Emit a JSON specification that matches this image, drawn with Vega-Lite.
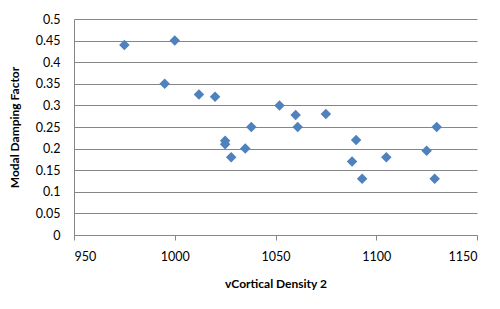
{
  "$schema": "https://vega.github.io/schema/vega-lite/v6.json",
  "width": 403,
  "height": 216,
  "autosize": {"type": "none"},
  "padding": {"left": 74, "top": 19, "right": 23, "bottom": 74},
  "background": "white",
  "config": {
    "view": {"stroke": null},
    "font": "Lato"
  },
  "data": {
    "values": [
      {"density": 975, "damping": 0.44},
      {"density": 1000, "damping": 0.45},
      {"density": 995, "damping": 0.35},
      {"density": 1012, "damping": 0.325},
      {"density": 1020, "damping": 0.32},
      {"density": 1052, "damping": 0.30},
      {"density": 1060, "damping": 0.278},
      {"density": 1075, "damping": 0.28},
      {"density": 1038, "damping": 0.25},
      {"density": 1061, "damping": 0.25},
      {"density": 1130, "damping": 0.25},
      {"density": 1025, "damping": 0.218},
      {"density": 1025, "damping": 0.21},
      {"density": 1028, "damping": 0.18},
      {"density": 1035, "damping": 0.20},
      {"density": 1090, "damping": 0.22},
      {"density": 1088, "damping": 0.17},
      {"density": 1105, "damping": 0.18},
      {"density": 1093, "damping": 0.13},
      {"density": 1125, "damping": 0.195},
      {"density": 1129, "damping": 0.13}
    ]
  },
  "mark": {"type": "point", "shape": "diamond", "filled": true, "size": 110, "color": "#4F81BD", "opacity": 1},
  "encoding": {
    "x": {
      "field": "density",
      "type": "quantitative",
      "title": "vCortical Density 2",
      "scale": {"domain": [950, 1150], "nice": false, "zero": false},
      "axis": {
        "values": [950, 1000, 1050, 1100, 1150],
        "format": "d",
        "grid": false,
        "domainColor": "#868686",
        "tickColor": "#868686",
        "tickSize": 5,
        "labelPadding": 10,
        "labelFontSize": 12.5,
        "labelColor": "#000000",
        "titleFontSize": 12,
        "titleFontWeight": "bold",
        "titleColor": "#000000",
        "titlePadding": 16
      }
    },
    "y": {
      "field": "damping",
      "type": "quantitative",
      "title": "Modal Damping Factor",
      "scale": {"domain": [0, 0.5], "nice": false},
      "axis": {
        "values": [0, 0.05, 0.1, 0.15, 0.2, 0.25, 0.3, 0.35, 0.4, 0.45, 0.5],
        "format": ".2~f",
        "grid": true,
        "gridColor": "#868686",
        "gridWidth": 1,
        "domainColor": "#868686",
        "ticks": false,
        "tickSize": 0,
        "labelPadding": 14,
        "labelFontSize": 12.5,
        "labelColor": "#000000",
        "titleFontSize": 12,
        "titleFontWeight": "bold",
        "titleColor": "#000000",
        "titlePadding": 14
      }
    }
  }
}
